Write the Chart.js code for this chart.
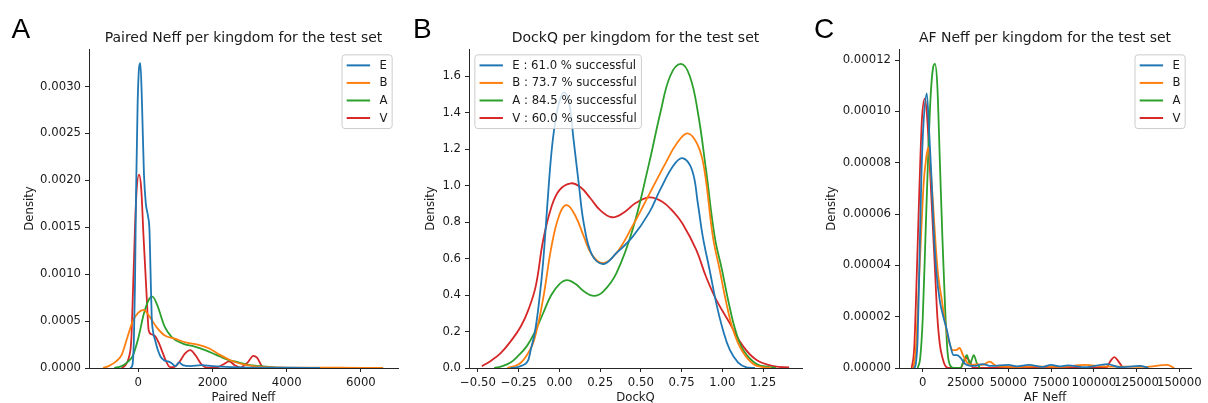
<!DOCTYPE html>
<html>
<head>
<meta charset="utf-8">
<script src="https://cdn.jsdelivr.net/npm/chart.js@4.4.1/dist/chart.umd.min.js"></script>
<style>
  html, body { margin: 0; padding: 0; background: #fff; }
  #wrap { position: relative; width: 1208px; height: 403px; overflow: hidden; }
  canvas { position: absolute; top: 0; }
</style>
</head>
<body>
<div id="wrap">
  <canvas id="panelA" width="404" height="403" style="left:0px"></canvas>
  <canvas id="panelB" width="400" height="403" style="left:404px"></canvas>
  <canvas id="panelC" width="404" height="403" style="left:804px"></canvas>
</div>
<script>
const kingdoms = ["E", "B", "A", "V"];
const colors = ["#1f77b4", "#ff7f0e", "#2ca02c", "#d62728"];
const dockqLabels = [
  "E : 61.0 % successful",
  "B : 73.7 % successful",
  "A : 84.5 % successful",
  "V : 60.0 % successful"
];

// panel A : paired Neff, [neff, density]
const pairedE = [[-220,0],[-160,0.00003],[-120,0.0003],[-90,0.0009],[-60,0.0019],[-20,0.0028],[20,0.0032],[55,0.00325],[100,0.0028],[150,0.00208],[200,0.00176],[260,0.00162],[300,0.00147],[330,0.00101],[360,0.00055],[400,0.00038],[450,0.0003],[520,0.0002],[600,0.00012],[700,0.00008],[800,0.00007],[900,0.00005],[1000,0.00002],[1100,0.00006],[1200,0.00003],[1400,0.00002],[1700,0.00003],[2000,0.00002],[2500,0.00001],[3000,0.000005],[4000,0.000003],[4900,0]];
const pairedB = [[-950,0],[-800,0.00002],[-600,0.00007],[-450,0.00014],[-300,0.00032],[-150,0.0005],[0,0.00059],[140,0.00062],[300,0.00055],[500,0.00043],[700,0.00035],[1000,0.00031],[1300,0.00027],[1600,0.00025],[1900,0.00021],[2200,0.00014],[2500,0.00008],[2800,0.00004],[3100,0.00002],[3500,0.000008],[4000,0.000005],[5000,0.000003],[6000,0.000002],[6600,0]];
const pairedA = [[-650,0],[-450,0.00002],[-300,0.00006],[-150,0.00013],[0,0.00032],[150,0.00058],[300,0.00074],[380,0.00076],[500,0.00068],[700,0.00045],[900,0.00033],[1200,0.00026],[1500,0.00023],[1800,0.00019],[2100,0.00014],[2400,0.00009],[2700,0.00006],[3000,0.00003],[3300,0.00002],[3700,0.000005],[4100,0]];
const pairedV = [[-450,0],[-350,0.00003],[-250,0.00012],[-190,0.0003],[-130,0.001],[-60,0.0018],[20,0.00206],[80,0.0019],[140,0.0014],[220,0.0008],[280,0.0004],[350,0.00036],[450,0.00034],[550,0.00027],[650,0.00017],[750,0.00007],[850,0.00001],[950,0.00001],[1100,0.00006],[1250,0.00015],[1400,0.00019],[1550,0.00013],[1700,0.00004],[1850,0.000005],[2100,0.000005],[2300,0.00004],[2450,0.00007],[2600,0.00003],[2750,0.000005],[2950,0.00006],[3100,0.00013],[3200,0.00011],[3350,0.00001],[3450,0]];

// panel B : DockQ, [dockq, density]
const dockqE = [[-0.3,0],[-0.258,0.005],[-0.2,0.03],[-0.176,0.1],[-0.15,0.2],[-0.124,0.37],[-0.1,0.58],[-0.072,0.92],[-0.05,1.17],[-0.027,1.34],[0,1.46],[0.03,1.51],[0.06,1.45],[0.087,1.25],[0.12,1.0],[0.15,0.79],[0.2,0.62],[0.27,0.57],[0.35,0.63],[0.45,0.72],[0.55,0.85],[0.62,0.98],[0.7,1.11],[0.756,1.15],[0.814,1.085],[0.85,0.9],[0.88,0.72],[0.922,0.537],[0.963,0.354],[1.004,0.208],[1.046,0.099],[1.097,0.03],[1.15,0.003],[1.2,0]];
const dockqB = [[-0.32,0],[-0.25,0.02],[-0.2,0.07],[-0.155,0.153],[-0.1,0.38],[-0.05,0.66],[0,0.84],[0.046,0.893],[0.1,0.83],[0.15,0.72],[0.2,0.62],[0.268,0.574],[0.35,0.63],[0.45,0.78],[0.55,0.95],[0.65,1.12],[0.72,1.23],[0.787,1.286],[0.85,1.22],[0.89,1.085],[0.942,0.72],[0.984,0.537],[1.025,0.354],[1.066,0.208],[1.118,0.099],[1.19,0.022],[1.25,0.005],[1.3,0]];
const dockqA = [[-0.4,0],[-0.35,0.01],[-0.3,0.03],[-0.258,0.062],[-0.2,0.12],[-0.155,0.19],[-0.1,0.3],[-0.05,0.4],[0,0.46],[0.046,0.482],[0.1,0.46],[0.15,0.42],[0.212,0.395],[0.27,0.42],[0.35,0.52],[0.45,0.76],[0.55,1.12],[0.62,1.4],[0.68,1.6],[0.745,1.666],[0.8,1.6],[0.85,1.4],[0.9,1.085],[0.953,0.72],[0.998,0.537],[1.04,0.354],[1.08,0.208],[1.128,0.099],[1.21,0.022],[1.29,0.005],[1.33,0]];
const dockqV = [[-0.476,0.01],[-0.42,0.04],[-0.362,0.08],[-0.3,0.145],[-0.238,0.226],[-0.19,0.32],[-0.145,0.45],[-0.1,0.7],[-0.05,0.88],[0,0.975],[0.071,1.012],[0.13,0.99],[0.19,0.93],[0.25,0.865],[0.325,0.826],[0.4,0.855],[0.47,0.905],[0.553,0.935],[0.632,0.911],[0.7,0.855],[0.756,0.79],[0.84,0.647],[0.9,0.5],[0.963,0.373],[1.046,0.245],[1.129,0.117],[1.21,0.044],[1.315,0.01],[1.41,0.003]];

// panel C : AF Neff, [neff, density]
const afE = [[-5000,0],[-4000,0.000002],[-3000,0.000012],[-2000,0.00004],[-1000,0.00007],[0,0.00009],[2300,0.000107],[3500,0.000095],[5000,0.000075],[6500,0.000052],[8000,0.000037],[10000,0.000026],[12000,0.00002],[14000,0.000015],[16000,0.000009],[18000,0.000005],[20000,0.000005],[22000,0.000004],[25000,0.0000015],[30000,0.0000008],[35000,0.0000015],[40000,0.0000008],[50000,0.0000012],[55000,0.0000006],[62000,0.0000012],[70000,0.0000004],[75000,0.0000012],[80000,0.0000006],[85000,0.000001],[95000,0.0000003],[108000,0.0000015],[115000,0.0000003],[127000,0.0000008],[132000,0]];
const afB = [[-5500,0],[-4000,0.000008],[-2500,0.00003],[-1000,0.000052],[500,0.000072],[2000,0.000082],[3200,0.000086],[4500,0.000078],[6000,0.000064],[7500,0.000048],[9000,0.000036],[11000,0.000027],[13000,0.000018],[15000,0.000011],[17500,0.000007],[19500,0.000007],[21500,0.0000078],[23500,0.000005],[26000,0.000002],[28500,0.0000012],[32000,0.0000015],[35000,0.0000012],[39000,0.0000025],[43000,0.0000008],[48000,0.0000005],[55000,0.0000004],[65000,0.0000006],[80000,0.0000004],[95000,0.0000012],[105000,0.0000006],[120000,0.0000005],[130000,0.0000004],[143000,0.0000012],[147000,0]];
const afA = [[-3000,0],[-1500,0.000004],[0,0.00002],[1500,0.00005],[3000,0.00008],[4500,0.000105],[6000,0.000117],[7100,0.0001185],[8500,0.00011],[10000,0.00008],[11500,0.00005],[13000,0.000024],[14500,0.000006],[16000,0.000001],[18000,0],[22000,0],[24000,0.000003],[25800,0.000005],[27500,0.0000015],[29800,0.000005],[31500,0.000002],[33500,0]];
const afV = [[-6500,0],[-5000,0.000008],[-3500,0.000037],[-2000,0.00007],[-500,0.000097],[1200,0.000105],[2500,0.000098],[4000,0.00008],[5500,0.00006],[7000,0.00004],[8500,0.00002],[10000,0.000009],[11500,0.000004],[13000,0.000001],[15000,0],[22000,0],[24000,0.0000025],[25800,0.000004],[27500,0.0000025],[29500,0],[107000,0],[110000,0.000003],[112000,0.0000042],[114000,0.000003],[117000,0]];

// ticks
const aXTicks = [0, 2000, 4000, 6000];
const aXTickLabels = ["0", "2000", "4000", "6000"];
const aYTicks = [0, 0.0005, 0.001, 0.0015, 0.002, 0.0025, 0.003];
const aYTickLabels = ["0.0000", "0.0005", "0.0010", "0.0015", "0.0020", "0.0025", "0.0030"];
const bXTicks = [-0.5, -0.25, 0, 0.25, 0.5, 0.75, 1.0, 1.25];
const bXTickLabels = ["\u22120.50", "\u22120.25", "0.00", "0.25", "0.50", "0.75", "1.00", "1.25"];
const bYTicks = [0, 0.2, 0.4, 0.6, 0.8, 1.0, 1.2, 1.4, 1.6];
const bYTickLabels = ["0.0", "0.2", "0.4", "0.6", "0.8", "1.0", "1.2", "1.4", "1.6"];
const cXTicks = [0, 25000, 50000, 75000, 100000, 125000, 150000];
const cXTickLabels = ["0", "25000", "50000", "75000", "100000", "125000", "150000"];
const cYTicks = [0, 0.00002, 0.00004, 0.00006, 0.00008, 0.0001, 0.00012];
const cYTickLabels = ["0.00000", "0.00002", "0.00004", "0.00006", "0.00008", "0.00010", "0.00012"];

const FONT = "'DejaVu Sans', 'Noto Sans', sans-serif";
const FS = 11.7;
const INK = "#1a1a1a";

// title, panel letter and matplotlib-like legend
const panelDecor = {
  id: "panelDecor",
  afterDatasetsDraw(chart, args, opts) {
    const ctx = chart.ctx;
    const area = chart.chartArea;
    const pad = 0.4 * FS, handle = 2 * FS, gap = 0.8 * FS, spacing = 0.5 * FS, rowH = FS;
    ctx.save();
    ctx.font = FS + "px " + FONT;
    const labels = opts.labels;
    let tw = 0;
    labels.forEach(l => { tw = Math.max(tw, ctx.measureText(l).width); });
    const w = 2 * pad + handle + gap + tw;
    const h = 2 * pad + labels.length * rowH + (labels.length - 1) * spacing;
    const x0 = opts.side === "left" ? area.left + 0.5 * FS : area.right - 0.5 * FS - w;
    const y0 = area.top + 0.5 * FS;
    ctx.beginPath();
    ctx.roundRect(x0, y0, w, h, 3);
    ctx.fillStyle = "rgba(255,255,255,0.8)";
    ctx.fill();
    ctx.strokeStyle = "#cccccc";
    ctx.lineWidth = 1;
    ctx.stroke();
    labels.forEach((l, i) => {
      const cy = y0 + pad + rowH / 2 + i * (rowH + spacing);
      ctx.strokeStyle = colors[i];
      ctx.lineWidth = 2;
      ctx.beginPath();
      ctx.moveTo(x0 + pad, cy);
      ctx.lineTo(x0 + pad + handle, cy);
      ctx.stroke();
      ctx.fillStyle = INK;
      ctx.textBaseline = "middle";
      ctx.textAlign = "left";
      ctx.fillText(l, x0 + pad + handle + gap, cy + 0.5);
    });
    ctx.restore();
  },
  afterDraw(chart, args, opts) {
    const ctx = chart.ctx;
    const area = chart.chartArea;
    ctx.save();
    ctx.fillStyle = INK;
    ctx.font = "14px " + FONT;
    ctx.textAlign = "center";
    ctx.textBaseline = "alphabetic";
    ctx.fillText(opts.title, (area.left + area.right) / 2, 41.5);
    ctx.fillStyle = "#000";
    ctx.font = "28px 'Liberation Sans', Arial, sans-serif";
    ctx.textAlign = "left";
    ctx.fillText(opts.letter, opts.letterX, 38);
    ctx.restore();
  }
};

function toPoints(pairs) {
  return pairs.map(p => ({ x: p[0], y: p[1] }));
}

function axis(min, max, ticks, labels, title, fitSize, titlePad, horizontal) {
  return {
    type: "linear",
    min: min,
    max: max,
    bounds: "data",
    afterBuildTicks: s => { s.ticks = ticks.map(v => ({ value: v })); },
    afterFit: s => { if (horizontal) s.height = fitSize; else s.width = fitSize; },
    ticks: {
      autoSkip: false,
      maxRotation: 0,
      minRotation: 0,
      padding: 4,
      color: INK,
      font: { family: FONT, size: FS },
      callback: (v, i) => labels[i]
    },
    grid: {
      display: true,
      drawOnChartArea: false,
      drawTicks: true,
      tickLength: 4,
      tickWidth: 1,
      tickColor: "#262626"
    },
    border: { display: true, color: "#262626", width: 1 },
    title: {
      display: true,
      text: title,
      color: INK,
      font: { family: FONT, size: FS },
      padding: horizontal ? { top: 0, bottom: titlePad } : { top: titlePad, bottom: 0 }
    }
  };
}

// smooth: true -> plain bezier tension, otherwise monotone cubic (sharp peaks)
function makePanel(id, series, xs, ys, decor, rightPad, smooth) {
  new Chart(document.getElementById(id), {
    type: "line",
    data: {
      datasets: series.map((s, i) => ({
        label: kingdoms[i],
        data: toPoints(s),
        borderColor: colors[i],
        borderWidth: 1.8,
        pointRadius: 0,
        fill: false,
        tension: 0.4,
        cubicInterpolationMode: smooth ? "default" : "monotone"
      }))
    },
    options: {
      responsive: false,
      animation: false,
      devicePixelRatio: 1,
      events: [],
      layout: { padding: { top: 49, right: rightPad, bottom: 0, left: 0 } },
      scales: { x: xs, y: ys },
      plugins: {
        legend: { display: false },
        title: { display: false },
        tooltip: { enabled: false },
        panelDecor: decor
      }
    },
    plugins: [panelDecor]
  });
}

makePanel("panelA", [pairedE, pairedB, pairedA, pairedV],
  axis(-1330, 7000, aXTicks, aXTickLabels, "Paired Neff", 35, -1.5, true),
  axis(0, 0.0034, aYTicks, aYTickLabels, "Density", 89, 22.5, false),
  { title: "Paired Neff per kingdom for the test set", letter: "A", letterX: 11.5, side: "right", labels: kingdoms },
  6, false);

makePanel("panelB", [dockqE, dockqB, dockqA, dockqV],
  axis(-0.555, 1.489, bXTicks, bXTickLabels, "DockQ", 35, -1.5, true),
  axis(0, 1.748, bYTicks, bYTickLabels, "Density", 65, 20, false),
  { title: "DockQ per kingdom for the test set", letter: "B", letterX: 9, side: "left", labels: dockqLabels },
  2, true);

makePanel("panelC", [afE, afB, afA, afV],
  axis(-13920, 156840, cXTicks, cXTickLabels, "AF Neff", 35, -1.5, true),
  axis(0, 0.0001243, cYTicks, cYTickLabels, "Density", 95, 20.5, false),
  { title: "AF Neff per kingdom for the test set", letter: "C", letterX: 10, side: "right", labels: kingdoms },
  17, false);
</script>
</body>
</html>
